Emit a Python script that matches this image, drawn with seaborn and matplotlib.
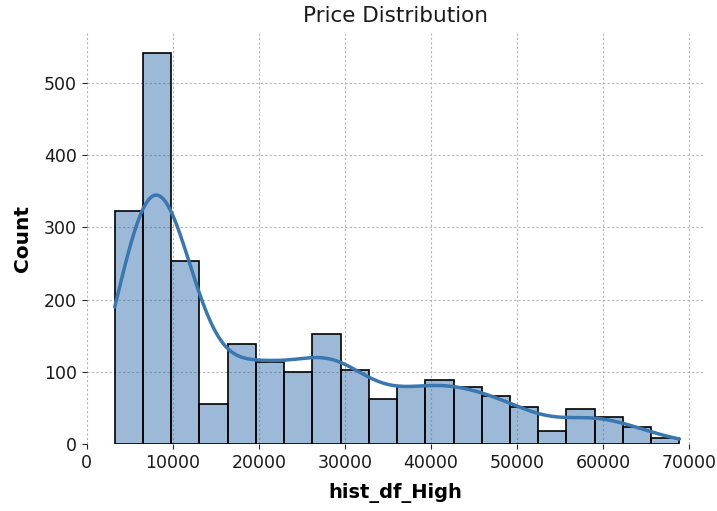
import numpy as np
import pandas as pd
import matplotlib
matplotlib.use("Agg")
import matplotlib.pyplot as plt
import seaborn as sns

# bin edges / counts
bin_left = 3250
bin_width = 3280
counts = [323, 542, 253, 55, 138, 113, 100, 153, 102, 63,
          80, 89, 79, 66, 52, 18, 48, 37, 24, 8]
xticks = [0, 10000, 20000, 30000, 40000, 50000, 60000, 70000]
yticks = [0, 100, 200, 300, 400, 500]

edges = bin_left + bin_width * np.arange(len(counts) + 1)
df = pd.DataFrame({"hist_df_High": (edges[:-1] + edges[1:]) / 2,
                   "n": counts})

sns.set_style("white")
fig, ax = plt.subplots(figsize=(7.17, 5.11), dpi=100)
fig.subplots_adjust(left=0.121, right=0.983, top=0.935, bottom=0.131)

sns.histplot(data=df, x="hist_df_High", weights="n", binwidth=bin_width,
             binrange=(edges[0], edges[-1]), kde=True, ax=ax,
             color="#3a76b0", alpha=0.5, edgecolor="black", linewidth=1.2,
             kde_kws={"cut": 3, "clip": (edges[0], edges[-1]), "bw_adjust": 0.32},
             line_kws={"linewidth": 2.5})

ax.set_title("Price Distribution", fontsize=15.5, color="#1a1a1a", pad=8)
ax.set_xlabel("hist_df_High", fontsize=14, fontweight="bold", color="black", labelpad=8)
ax.set_ylabel("Count", fontsize=14.5, fontweight="bold", color="black", labelpad=9)
ax.set_xticks(xticks)
ax.set_yticks(yticks)
ax.set_xlim(0, 71800)
ax.set_ylim(0, 569)
ax.tick_params(labelsize=12.5, length=3.5, bottom=True, left=True, labelcolor="#1a1a1a")
ax.grid(True, linestyle=(0, (2, 2)), color="#b5b5b5", linewidth=0.8)
ax.set_axisbelow(True)
for s in ax.spines.values():
    s.set_visible(False)

plt.savefig("out.png")
